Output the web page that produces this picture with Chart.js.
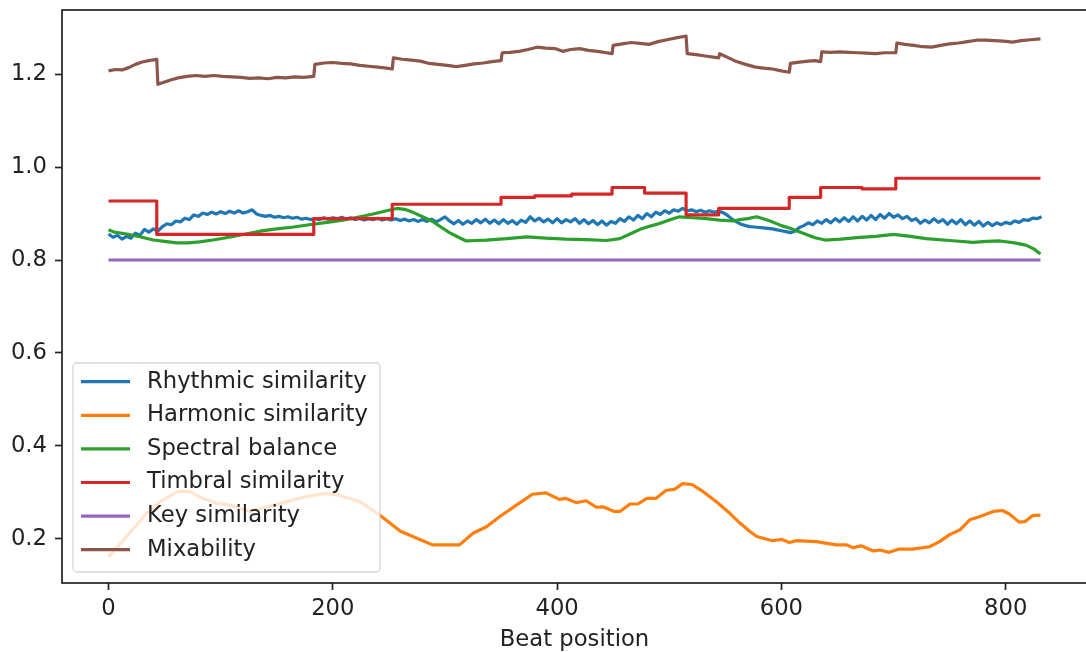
<!DOCTYPE html>
<html>
<head>
<meta charset="utf-8">
<script src="https://cdn.jsdelivr.net/npm/chart.js@4.4.1/dist/chart.umd.min.js"></script>
<style>
  html, body { margin: 0; padding: 0; background: #fff; overflow: hidden; }
  #wrap { width: 1090px; height: 652px; }
</style>
</head>
<body>
<div id="wrap"><canvas id="chart" width="1090" height="652"></canvas></div>
<script>
const seriesNames = ['Rhythmic similarity', 'Harmonic similarity', 'Spectral balance',
  'Timbral similarity', 'Key similarity', 'Mixability'];
const seriesColors = ['#1f77b4', '#ff7f0e', '#2ca02c', '#d62728', '#9467bd', '#8c564b'];

// rhythmic similarity, one value every 4 beats (0 .. 832)
const rhythmStep = 4;
const rhythmValues = [
  0.856, 0.849, 0.853, 0.845, 0.851, 0.847, 0.858, 0.853, 0.866, 0.860,
  0.867, 0.862, 0.872, 0.878, 0.876, 0.884, 0.882, 0.890, 0.887, 0.897,
  0.894, 0.901, 0.898, 0.903, 0.899, 0.904, 0.900, 0.905, 0.901, 0.906,
  0.901, 0.904, 0.908, 0.899, 0.896, 0.894, 0.896, 0.892, 0.894, 0.891,
  0.893, 0.890, 0.892, 0.888, 0.890, 0.887, 0.889, 0.887, 0.891, 0.888,
  0.891, 0.889, 0.892, 0.888, 0.891, 0.887, 0.890, 0.886, 0.889, 0.887,
  0.890, 0.886, 0.889, 0.886, 0.889, 0.885, 0.888, 0.884, 0.887, 0.883,
  0.887, 0.883, 0.888, 0.882, 0.887, 0.893, 0.884, 0.878, 0.885, 0.877,
  0.884, 0.879, 0.887, 0.880, 0.888, 0.879, 0.886, 0.878, 0.887, 0.879,
  0.885, 0.877, 0.886, 0.881, 0.893, 0.884, 0.890, 0.882, 0.888, 0.880,
  0.889, 0.880, 0.887, 0.882, 0.889, 0.879, 0.887, 0.878, 0.885, 0.876,
  0.884, 0.875, 0.883, 0.879, 0.889, 0.883, 0.893, 0.886, 0.896, 0.889,
  0.900, 0.893, 0.903, 0.898, 0.906, 0.901, 0.908, 0.905, 0.911, 0.906,
  0.908, 0.904, 0.907, 0.903, 0.906, 0.903, 0.905, 0.902, 0.896, 0.888,
  0.882, 0.877, 0.874, 0.872, 0.871, 0.870, 0.869, 0.868, 0.867, 0.865,
  0.863, 0.861, 0.859, 0.862, 0.870, 0.874, 0.880, 0.876, 0.884, 0.879,
  0.887, 0.880, 0.889, 0.882, 0.891, 0.883, 0.893, 0.884, 0.894, 0.886,
  0.896, 0.887, 0.898, 0.890, 0.900, 0.892, 0.897, 0.889, 0.894, 0.885,
  0.889, 0.879, 0.886, 0.880, 0.889, 0.881, 0.887, 0.877, 0.886, 0.878,
  0.887, 0.876, 0.884, 0.875, 0.883, 0.873, 0.881, 0.874, 0.880, 0.876,
  0.881, 0.878, 0.884, 0.881, 0.887, 0.885, 0.890, 0.889, 0.893
];

const harmBeats = [0, 16, 34, 46, 62, 72, 84, 96, 108, 126, 141, 159, 176, 194, 206, 224, 242, 260, 277, 289,
  313, 325, 337, 349, 364, 378, 390, 402, 408, 417, 426, 435, 441, 451, 456, 465, 472, 480, 488, 497,
  505, 512, 520, 530, 542, 554, 563, 572, 578, 592, 600, 607, 613, 631, 649, 658, 664, 671, 682, 688,
  696, 705, 717, 732, 741, 750, 759, 768, 777, 789, 797, 803, 812, 817, 824, 831];
const harmValues = [0.161, 0.205, 0.255, 0.280, 0.302, 0.302, 0.287, 0.277, 0.273, 0.259, 0.269, 0.280, 0.291, 0.298, 0.294, 0.280, 0.251, 0.217, 0.199, 0.187,
  0.187, 0.212, 0.226, 0.248, 0.273, 0.296, 0.299, 0.285, 0.287, 0.278, 0.282, 0.268, 0.269, 0.259, 0.259, 0.275, 0.275, 0.287, 0.287, 0.304,
  0.307, 0.319, 0.317, 0.302, 0.280, 0.255, 0.234, 0.216, 0.205, 0.196, 0.199, 0.192, 0.196, 0.194, 0.187, 0.187, 0.181, 0.185, 0.174, 0.176,
  0.171, 0.178, 0.178, 0.183, 0.194, 0.209, 0.219, 0.241, 0.248, 0.259, 0.261, 0.254, 0.236, 0.237, 0.250, 0.251];

const specBeats = [0, 5, 16, 28, 40, 50, 61, 71, 81, 93, 105, 120, 135, 150, 165, 182, 195, 209, 222, 236,
  248, 257, 264, 272, 280, 289, 297, 304, 312, 319, 328, 337, 355, 373, 390, 408, 426, 444, 456, 465,
  474, 483, 492, 500, 509, 521, 533, 545, 557, 563, 570, 578, 590, 600, 607, 620, 630, 639, 653, 667,
  684, 700, 715, 729, 750, 771, 783, 795, 808, 818, 825, 831];
const specValues = [0.865, 0.860, 0.856, 0.850, 0.843, 0.840, 0.837, 0.837, 0.839, 0.843, 0.848, 0.855, 0.862, 0.867, 0.871, 0.877, 0.881, 0.886, 0.892, 0.899,
  0.906, 0.911, 0.909, 0.902, 0.893, 0.883, 0.870, 0.859, 0.849, 0.841, 0.842, 0.843, 0.846, 0.850, 0.847, 0.845, 0.844, 0.842, 0.846, 0.856,
  0.866, 0.873, 0.879, 0.886, 0.893, 0.891, 0.889, 0.886, 0.884, 0.887, 0.889, 0.893, 0.884, 0.874, 0.869, 0.857, 0.848, 0.843, 0.845, 0.848,
  0.851, 0.855, 0.851, 0.846, 0.842, 0.838, 0.840, 0.841, 0.837, 0.832, 0.824, 0.813];

// timbral similarity only changes at section boundaries
const timbreBeats = [0, 43, 183, 253, 350, 380, 413, 449, 478, 515, 544, 607, 635, 672, 702, 831];
const timbreValues = [0.927, 0.855, 0.889, 0.920, 0.935, 0.938, 0.942, 0.956, 0.944, 0.897, 0.911, 0.935, 0.956, 0.953, 0.976, 0.976];

const keyBeats = [0, 831];
const keyValues = [0.800, 0.800];

const mixBeats = [0, 6, 12, 18, 24, 30, 36, 43,
  44, 50, 56, 62, 70, 78, 86, 94, 102, 110, 118, 126, 134, 142, 150, 158, 166, 174, 183,
  184, 192, 200, 208, 216, 224, 232, 240, 248, 253,
  254, 262, 270, 278, 286, 294, 302, 310, 318, 326, 334, 342, 350,
  351, 358, 366, 374, 382, 390, 398, 405, 412, 420, 428, 436, 444, 449,
  450, 458, 466, 474, 482, 490, 498, 506, 515,
  516, 524, 532, 544,
  545, 552, 560, 568, 577, 584, 592, 600, 607,
  608, 616, 624, 630, 635,
  636, 644, 652, 660, 668, 676, 684, 692, 702,
  703, 710, 718, 726, 734, 742, 750, 758, 766, 774, 782, 790, 798, 806, 814, 822, 831];
const mixValues = [1.207, 1.210, 1.209, 1.214, 1.221, 1.226, 1.229, 1.232,
  1.178, 1.183, 1.188, 1.192, 1.195, 1.197, 1.195, 1.197, 1.195, 1.194, 1.193, 1.191, 1.192, 1.190, 1.193, 1.192, 1.194, 1.193, 1.195,
  1.221, 1.224, 1.225, 1.223, 1.222, 1.219, 1.217, 1.215, 1.213, 1.211,
  1.235, 1.232, 1.230, 1.228, 1.223, 1.221, 1.219, 1.216, 1.219, 1.222, 1.224, 1.227, 1.229,
  1.246, 1.247, 1.249, 1.253, 1.258, 1.256, 1.255, 1.249, 1.253, 1.255, 1.251, 1.249, 1.246, 1.244,
  1.262, 1.265, 1.268, 1.266, 1.264, 1.270, 1.274, 1.278, 1.282,
  1.244, 1.242, 1.239, 1.235,
  1.244, 1.236, 1.227, 1.221, 1.215, 1.213, 1.211, 1.207, 1.204,
  1.223, 1.226, 1.228, 1.229, 1.227,
  1.248, 1.247, 1.248, 1.247, 1.246, 1.245, 1.244, 1.246, 1.246,
  1.267, 1.264, 1.262, 1.259, 1.258, 1.262, 1.265, 1.267, 1.270, 1.273, 1.273, 1.272, 1.271, 1.269, 1.272, 1.274, 1.276];

const xTicks = [0, 200, 400, 600, 800];
const yTicks = [0.2, 0.4, 0.6, 0.8, 1.0, 1.2];

const rhythmBeats = rhythmValues.map((_, i) => i * rhythmStep);
const toPoints = (xs, ys) => xs.map((x, i) => ({ x: x, y: ys[i] }));

const seriesPoints = [
  toPoints(rhythmBeats, rhythmValues),
  toPoints(harmBeats, harmValues),
  toPoints(specBeats, specValues),
  toPoints(timbreBeats, timbreValues),
  toPoints(keyBeats, keyValues),
  toPoints(mixBeats, mixValues)
];

const ink = '#222';
const fontFamily = '"DejaVu Sans", sans-serif';
const fontSize = 22.7;

function roundedRect(ctx, x, y, w, h, r) {
  ctx.beginPath();
  ctx.moveTo(x + r, y);
  ctx.arcTo(x + w, y, x + w, y + h, r);
  ctx.arcTo(x + w, y + h, x, y + h, r);
  ctx.arcTo(x, y + h, x, y, r);
  ctx.arcTo(x, y, x + w, y, r);
  ctx.closePath();
}

// frame around the plot + legend box in the lower left corner
const framePlugin = {
  id: 'frameAndLegend',
  afterDatasetsDraw(chart) {
    const { ctx, chartArea: a } = chart;
    ctx.save();
    ctx.strokeStyle = ink;
    ctx.lineWidth = 1.7;
    ctx.strokeRect(a.left, a.top, a.right - a.left, a.bottom - a.top);

    roundedRect(ctx, 73, 363, 307, 209, 4);
    ctx.fillStyle = 'rgba(255,255,255,0.8)';
    ctx.fill();
    ctx.lineWidth = 1.3;
    ctx.strokeStyle = 'rgba(204,204,204,0.8)';
    ctx.stroke();

    ctx.font = fontSize + 'px ' + fontFamily;
    ctx.textBaseline = 'middle';
    ctx.textAlign = 'left';
    seriesNames.forEach((name, i) => {
      const cy = 381.7 + i * 33.6;
      ctx.strokeStyle = seriesColors[i];
      ctx.lineWidth = 3.2;
      ctx.beginPath();
      ctx.moveTo(81, cy);
      ctx.lineTo(130, cy);
      ctx.stroke();
      ctx.fillStyle = ink;
      ctx.fillText(name, 147, cy);
    });
    ctx.restore();
  }
};

Chart.defaults.font.family = fontFamily;

const tickGrid = {
  display: true, drawOnChartArea: false, drawTicks: true,
  tickLength: 7, tickWidth: 1.7, tickColor: ink
};

new Chart(document.getElementById('chart'), {
  type: 'line',
  data: {
    datasets: seriesPoints.map((pts, i) => ({
      label: seriesNames[i],
      data: pts,
      borderColor: seriesColors[i],
      backgroundColor: seriesColors[i],
      borderWidth: 3.2,
      pointRadius: 0,
      tension: 0,
      fill: false,
      borderJoinStyle: 'round',
      stepped: i === 3 ? 'before' : false,
      order: 5 - i
    }))
  },
  options: {
    responsive: false,
    animation: false,
    devicePixelRatio: 1,
    layout: { padding: { top: 10, right: 3, left: 0, bottom: 0 } },
    plugins: { legend: { display: false }, tooltip: { enabled: false } },
    scales: {
      x: {
        type: 'linear',
        min: -41.5,
        max: 872.5,
        afterBuildTicks: s => { s.ticks = xTicks.map(v => ({ value: v })); },
        afterFit: s => { s.height = 69; s.paddingLeft = 0; s.paddingRight = 0; },
        ticks: { color: ink, font: { size: fontSize }, padding: 5, maxRotation: 0, autoSkip: false,
          callback: v => String(v) },
        grid: tickGrid,
        border: { display: false },
        title: { display: true, text: 'Beat position', color: ink, font: { size: fontSize },
          padding: { top: 0, bottom: -2 } }
      },
      y: {
        type: 'linear',
        min: 0.105,
        max: 1.338,
        afterBuildTicks: s => { s.ticks = yTicks.map(v => ({ value: v })); },
        afterFit: s => { s.width = 62; s.paddingTop = 0; s.paddingBottom = 0; },
        ticks: { color: ink, font: { size: fontSize }, padding: 8, callback: v => v.toFixed(1) },
        grid: tickGrid,
        border: { display: false }
      }
    }
  },
  plugins: [framePlugin]
});
</script>
</body>
</html>
